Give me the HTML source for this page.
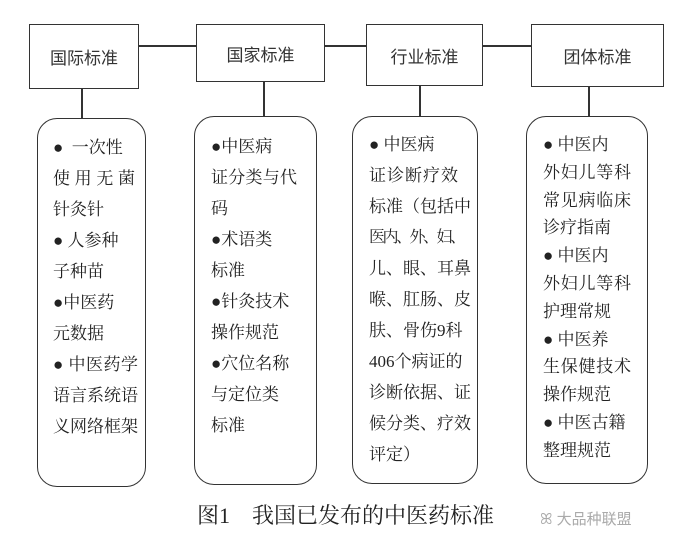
<!DOCTYPE html>
<html><head><meta charset="utf-8"><style>
body{margin:0;background:#fff;width:674px;height:533px;position:relative;overflow:hidden;font-family:"Liberation Serif","Noto Serif CJK SC","Noto Sans CJK SC",serif;color:#222}
.b{position:absolute;border:1.5px solid #333;box-sizing:border-box;background:#fff;font-size:17px;display:flex;align-items:center;justify-content:center;font-family:"Liberation Sans","Noto Sans CJK SC",sans-serif;color:#333}
.r{position:absolute;border:1.5px solid #333;border-radius:20px;box-sizing:border-box}
.l{position:absolute;background:#333}
.t{position:absolute;font-size:17px;line-height:20px;white-space:nowrap}
.j{text-align:justify;text-align-last:justify}
</style></head><body>
<div class="l" style="left:138px;top:45px;width:393px;height:1.5px"></div>
<div class="l" style="left:81px;top:88px;width:1.5px;height:30px"></div>
<div class="l" style="left:263px;top:80px;width:1.5px;height:36px"></div>
<div class="l" style="left:419px;top:84px;width:1.5px;height:32px"></div>
<div class="l" style="left:588px;top:85px;width:1.5px;height:31px"></div>
<div class="b" style="left:29px;top:24px;width:110px;height:65px">国际标准</div>
<div class="b" style="left:196px;top:24px;width:129px;height:58px">国家标准</div>
<div class="b" style="left:366px;top:24px;width:117px;height:62px">行业标准</div>
<div class="b" style="left:531px;top:24px;width:133px;height:63px">团体标准</div>
<div class="r" style="left:37px;top:118px;width:109px;height:369px"></div>
<div class="r" style="left:194px;top:116px;width:123px;height:369px"></div>
<div class="r" style="left:352px;top:116px;width:126px;height:368px"></div>
<div class="r" style="left:526px;top:116px;width:122px;height:368px"></div>

<div class="t" style="left:53px;top:138px">●&nbsp; 一次性</div>
<div class="t j" style="left:53px;top:169px;width:82px">使用无菌</div>
<div class="t" style="left:53px;top:200px">针灸针</div>
<div class="t" style="left:53px;top:231px">●&nbsp;人参种</div>
<div class="t" style="left:53px;top:262px">子种苗</div>
<div class="t" style="left:53px;top:293px">●中医药</div>
<div class="t" style="left:53px;top:324px">元数据</div>
<div class="t j" style="left:53px;top:355px;width:85px">● 中医药学</div>
<div class="t j" style="left:53px;top:386px;width:85px">语言系统语</div>
<div class="t j" style="left:53px;top:417px;width:85px">义网络框架</div>

<div class="t" style="left:211px;top:137px">●中医病</div>
<div class="t j" style="left:211px;top:168px;width:86px">证分类与代</div>
<div class="t" style="left:211px;top:199px">码</div>
<div class="t" style="left:211px;top:230px">●术语类</div>
<div class="t" style="left:211px;top:261px">标准</div>
<div class="t" style="left:211px;top:292px">●针灸技术</div>
<div class="t" style="left:211px;top:323px">操作规范</div>
<div class="t" style="left:211px;top:354px">●穴位名称</div>
<div class="t" style="left:211px;top:385px">与定位类</div>
<div class="t" style="left:211px;top:416px">标准</div>

<div class="t" style="left:369px;top:135px">● 中医病</div>
<div class="t j" style="left:369px;top:166px;width:89px">证诊断疗效</div>
<div class="t j" style="left:369px;top:197px;width:89px">标准（包括中</div>
<div class="t" style="left:369px;top:228px;letter-spacing:-2.5px;font-size:16px">医内、外、妇、</div>
<div class="t j" style="left:369px;top:259px;width:89px">儿、眼、耳鼻</div>
<div class="t j" style="left:369px;top:290px;width:89px">喉、肛肠、皮</div>
<div class="t" style="left:369px;top:321px">肤、骨伤9科</div>
<div class="t j" style="left:369px;top:352px;width:89px">406个病证的</div>
<div class="t j" style="left:369px;top:383px;width:89px">诊断依据、证</div>
<div class="t j" style="left:369px;top:414px;width:89px">候分类、疗效</div>
<div class="t" style="left:369px;top:445px">评定）</div>

<div class="t" style="left:543px;top:135px">● 中医内</div>
<div class="t j" style="left:543px;top:163px;width:88px">外妇儿等科</div>
<div class="t j" style="left:543px;top:191px;width:88px">常见病临床</div>
<div class="t" style="left:543px;top:218px">诊疗指南</div>
<div class="t" style="left:543px;top:246px">● 中医内</div>
<div class="t j" style="left:543px;top:274px;width:88px">外妇儿等科</div>
<div class="t" style="left:543px;top:302px">护理常规</div>
<div class="t" style="left:543px;top:330px">● 中医养</div>
<div class="t j" style="left:543px;top:357px;width:88px">生保健技术</div>
<div class="t" style="left:543px;top:385px">操作规范</div>
<div class="t" style="left:543px;top:413px">● 中医古籍</div>
<div class="t" style="left:543px;top:441px">整理规范</div>

<div class="t" style="left:197px;top:503px;font-size:22px;line-height:26px">图1&nbsp;&nbsp;&nbsp; 我国已发布的中医药标准</div>
<div class="t" style="left:540px;top:510px;font-size:15px;color:#aaa;font-family:'Liberation Sans','Noto Sans CJK SC',sans-serif">ꕤ 大品种联盟</div>
</body></html>
